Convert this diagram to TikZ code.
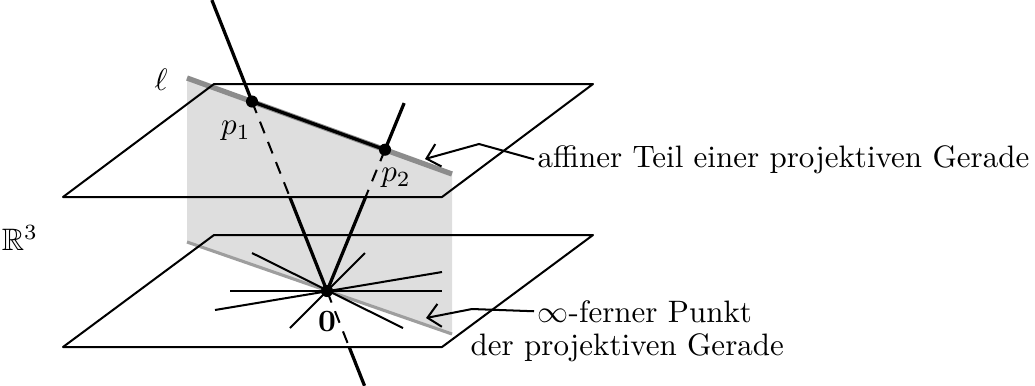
\documentclass[tikz,border=0pt]{standalone}
\usepackage{amssymb}
\usetikzlibrary{calc,arrows.meta}
\begin{document}
\begin{tikzpicture}[x=0.3225pt,y=-0.3225pt,
  plane/.style={line width=0.65pt,line join=round},
  mainline/.style={line width=1.05pt},
  hidden/.style={line width=0.65pt,dash pattern=on 4pt off 3pt},
  starline/.style={line width=0.65pt},
  callout/.style={line width=0.65pt,-{Straight Barb[length=4pt,width=7.5pt,line width=0.65pt]}},
  lbl/.style={inner sep=1pt},
  dot/.style={circle,fill=black,inner sep=0pt,minimum size=3.9pt}]
\useasboundingbox (0,0) rectangle (1035,385);
% points
\coordinate (A1) at (63,197);  \coordinate (A2) at (442,197);
\coordinate (A3) at (593,84);  \coordinate (A4) at (214,84);
\coordinate (B1) at (63,347);  \coordinate (B2) at (442,347);
\coordinate (B3) at (593,235); \coordinate (B4) at (214,235);
\coordinate (G1) at (187,78);  \coordinate (G2) at (452,174);
\coordinate (G3) at (452,334); \coordinate (G4) at (187,242);
\coordinate (O) at (327,291);
\coordinate (P1) at (252,101.5);
\coordinate (P2) at (385,149.7);
% gray plane through 0
\fill[black!13] (G1) -- (G2) -- (G3) -- (G4) -- cycle;
\draw[black!45,line width=1.7pt] (G1) -- (G2);
\draw[black!38,line width=1pt] (G4) -- (G3);
% planes
\draw[plane] (A1) -- (A2) -- (A3) -- (A4) -- cycle;
\draw[plane] (B1) -- (B2) -- (B3) -- (B4) -- cycle;
% bundle of lines in the lower plane
\coordinate (S1a) at (252,253); \coordinate (S1b) at (403,328);
\coordinate (S2a) at (365,253); \coordinate (S2b) at (290,328);
\coordinate (S3a) at (230,291); \coordinate (S3b) at (442,291);
\coordinate (S4a) at (215,310); \coordinate (S4b) at (442,272);
\draw[starline] (S1a) -- (S1b);
\draw[starline] (S2a) -- (S2b);
\draw[starline] (S3a) -- (S3b);
\draw[starline] (S4a) -- (S4b);
% line through 0 and p1
\coordinate (L1top) at ($(O)!1.535!(P1)$);
\coordinate (L1cut) at ($(O)!0.496!(P1)$);
\coordinate (L1low) at ($(O)!-0.2955!(P1)$);
\coordinate (L1bot) at ($(O)!-0.5!(P1)$);
\draw[mainline] (L1top) -- (P1);
\draw[hidden] (P1) -- (L1cut);
\draw[mainline] (L1cut) -- (O);
\draw[hidden] (O) -- (L1low);
\draw[mainline] (L1low) -- (L1bot);
% line through 0 and p2
\coordinate (L2top) at ($(O)!1.33!(P2)$);
\coordinate (L2cut) at ($(O)!0.665!(P2)$);
\draw[mainline] (L2top) -- (P2);
\draw[hidden] (P2) -- (L2cut);
\draw[mainline] (L2cut) -- (O);
% affine part
\draw[mainline] (P1) -- (P2);
\node[dot] (p1) at (P1) {};
\node[dot] (p2) at (P2) {};
\node[dot] (o) at (O) {};
% labels
\node (R3) at (20,238) {$\mathbb{R}^3$};
\node (ell) at (161,80) {$\ell$};
\node (lp1) at (236,131) {$p_1$};
\node (lp2) at (396,178) {$p_2$};
\node (l0) at (327,321) {$\mathbf{0}$};
% callouts
\node[lbl,anchor=base west] (T1) at (534,167) {affiner Teil einer projektiven Gerade};
\node[lbl,anchor=base west] (T2) at (534,322) {$\infty$-ferner Punkt};
\node[lbl,anchor=base west] (T3) at (467,355) {der projektiven Gerade};
\coordinate (K1) at (479,144);
\coordinate (H1) at (425,159);
\coordinate (K2) at (472,309);
\coordinate (H2) at (426,318);
\draw[callout] (T1.west) -- (K1) -- (H1);
\draw[callout] (T2.west) -- (K2) -- (H2);
\end{tikzpicture}
\end{document}
